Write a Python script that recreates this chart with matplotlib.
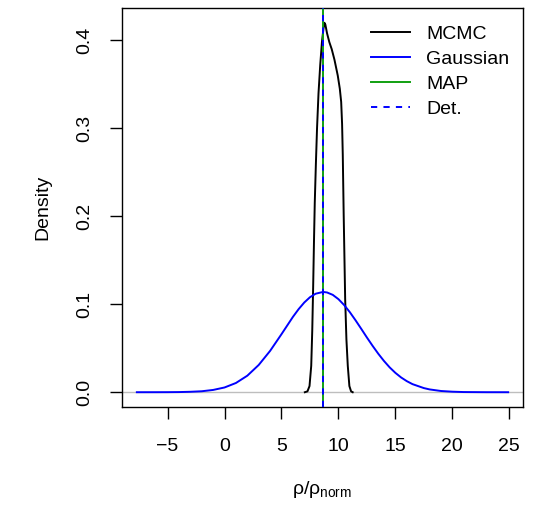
import matplotlib
matplotlib.use("Agg")
import matplotlib.pyplot as plt

plt.rcParams['font.family'] = ['Liberation Sans', 'DejaVu Sans']
plt.rcParams['mathtext.fontset'] = 'custom'
plt.rcParams['mathtext.rm'] = 'Liberation Sans'
plt.rcParams['mathtext.it'] = 'Liberation Sans'

# MCMC density
mcmc_x = [7.05, 7.28, 7.46, 7.61, 7.70, 7.78, 7.85, 7.92, 8.02, 8.12, 8.25, 8.40, 8.55, 8.68, 8.77, 8.85,
          9.00, 9.20, 9.41, 9.65, 9.94, 10.12, 10.24, 10.32, 10.38, 10.46, 10.59, 10.70, 10.82, 10.96,
          11.11, 11.25]
mcmc_y = [0.0, 0.001, 0.007, 0.030, 0.070, 0.120, 0.170, 0.215, 0.260, 0.300, 0.340, 0.372, 0.398, 0.413,
          0.420, 0.418, 0.408, 0.398, 0.390, 0.378, 0.360, 0.345, 0.330, 0.305, 0.270, 0.202, 0.106, 0.060,
          0.030, 0.007, 0.001, 0.0]

# Gaussian approximation
gauss_x = [-7.7, -6, -5, -4, -3, -2, -1, 0, 1, 2, 3, 4, 5, 6, 6.5, 7, 7.5, 8, 8.65, 9, 9.5, 10, 10.5, 11,
           11.5, 12, 12.5, 13, 13.5, 14, 14.5, 15, 15.5, 16, 16.5, 17.5, 18, 19, 20, 21, 23, 24.9]
gauss_y = [0.0, 0.00002, 0.00006, 0.00017, 0.0005, 0.0011, 0.0026, 0.0054, 0.0105, 0.0188, 0.031, 0.047,
           0.066, 0.0856, 0.0944, 0.102, 0.108, 0.112, 0.114, 0.1134, 0.1107, 0.1058, 0.0991, 0.091,
           0.0818, 0.0721, 0.0622, 0.0527, 0.0437, 0.0355, 0.0282, 0.022, 0.0168, 0.0126, 0.0092, 0.0047,
           0.0032, 0.0014, 0.0006, 0.0002, 0.00002, 0.0]

map_value = 8.62
det_value = 8.62

xticks = [-5, 0, 5, 10, 15, 20, 25]
yticks = [0.0, 0.1, 0.2, 0.3, 0.4]
ytick_labels = ["0.0", "0.1", "0.2", "0.3", "0.4"]

fig = plt.figure(figsize=(5.38, 5.05), dpi=100)
ax = fig.add_axes([122/538, 1-407/505, 401/538, 399/505])

lw = 1.4
ax.axhline(0, color='#BEBEBE', lw=1.0, zorder=1)
ax.plot(mcmc_x, mcmc_y, color='black', lw=lw, label='MCMC', zorder=3)
ax.plot(gauss_x, gauss_y, color='#0000FF', lw=lw, label='Gaussian', zorder=3)
ax.axvline(map_value, color='#10A010', lw=lw, label='MAP', zorder=4)
ax.axvline(det_value, color='#0000FF', lw=lw, dashes=(3.2, 3.2), label='Det.', zorder=5)

xmin, xmax = -7.7, 24.9
xr = xmax - xmin
ax.set_xlim(xmin - 0.04*xr, xmax + 0.04*xr)
ymax = 0.42
ax.set_ylim(-0.04*ymax, ymax*1.04)

ax.set_xticks(xticks)
ax.set_xticklabels([str(t).replace('-', '\u2212') for t in xticks])
ax.set_yticks(yticks)
ax.set_yticklabels(ytick_labels, rotation=90, va='center')

for s in ax.spines.values():
    s.set_linewidth(1.0)
    s.set_color('black')

ax.tick_params(axis='both', length=8.6, width=1.0, labelsize=14, color='black')
ax.tick_params(axis='x', pad=14)
ax.tick_params(axis='y', pad=12)

ax.set_xlabel(r'$\mathrm{\rho/\rho_{norm}}$', fontsize=14, labelpad=17)
ax.set_ylabel('Density', fontsize=14, labelpad=18)

leg = ax.legend(loc='upper right', bbox_to_anchor=(1 + 4/401, 1), frameon=False, fontsize=14,
                handlelength=2.0, handletextpad=0.85, labelspacing=0.38, borderaxespad=0.7,
                borderpad=0.2)

fig.savefig('out.png', dpi=100)
